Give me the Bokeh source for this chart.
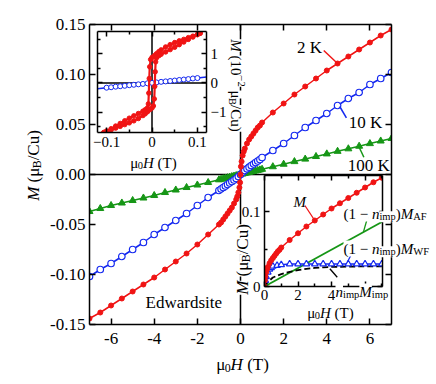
import math
from bokeh.plotting import figure
from bokeh.models import Range1d, LinearAxis, FixedTicker, Span, Label
from bokeh.embed import file_html
from bokeh.resources import INLINE

FONT = "Liberation Serif"
RED, BLUE, GREEN = "#f01414", "#1428f0", "#169616"

# ---------------- main panel data (muB/Cu vs T) ----------------
h_2k = [-7.0, -6.5, -6.0, -5.5, -5.0, -4.5, -4.0, -3.5, -3.0, -2.5, -2.0, -1.5, -1.0,
        -0.9, -0.8, -0.7, -0.6, -0.5, -0.4, -0.3, -0.2, -0.15, -0.1, -0.05, -0.02, 0.0,
        0.02, 0.05, 0.1, 0.15, 0.2, 0.3, 0.4, 0.5, 0.6, 0.7, 0.8, 0.9,
        1.0, 1.5, 2.0, 2.5, 3.0, 3.5, 4.0, 4.5, 5.0, 5.5, 6.0, 6.5, 7.0]
m_2k = [-0.144, -0.138, -0.131, -0.124, -0.117, -0.110, -0.103, -0.095, -0.087, -0.079, -0.070, -0.060, -0.050,
        -0.048, -0.045, -0.042, -0.039, -0.036, -0.033, -0.029, -0.025, -0.022, -0.018, -0.013, -0.008, 0.0,
        0.008, 0.013, 0.019, 0.023, 0.026, 0.031, 0.035, 0.038, 0.041, 0.044, 0.047, 0.049,
        0.052, 0.062, 0.071, 0.080, 0.088, 0.096, 0.104, 0.111, 0.118, 0.125, 0.132, 0.139, 0.145]

h_10k = [-7.0, -6.5, -6.0, -5.5, -5.0, -4.5, -4.0, -3.5, -3.0, -2.5, -2.0, -1.5, -1.0,
         -0.9, -0.8, -0.7, -0.6, -0.5, -0.4, -0.3, -0.2, -0.1, 0.0,
         0.1, 0.2, 0.3, 0.4, 0.5, 0.6, 0.7, 0.8, 0.9,
         1.0, 1.5, 2.0, 2.5, 3.0, 3.5, 4.0, 4.5, 5.0, 5.5, 6.0, 6.5, 7.0]
m_10k = [-0.102, -0.095, -0.089, -0.082, -0.075, -0.068, -0.060, -0.053, -0.046, -0.039, -0.031, -0.023, -0.016,
         -0.0145, -0.013, -0.0115, -0.010, -0.0085, -0.007, -0.0055, -0.004, -0.002, 0.0,
         0.002, 0.004, 0.0057, 0.0073, 0.009, 0.0105, 0.012, 0.0135, 0.015,
         0.017, 0.024, 0.031, 0.039, 0.047, 0.054, 0.061, 0.069, 0.076, 0.082, 0.090, 0.096, 0.102]

h_100k = [-7.0, -6.5, -6.0, -5.5, -5.0, -4.5, -4.0, -3.5, -3.0, -2.5, -2.0, -1.5, -1.0,
          -0.9, -0.8, -0.7, -0.6, -0.5, -0.4, -0.3, -0.2, -0.1, 0.0,
          0.1, 0.2, 0.3, 0.4, 0.5, 0.6, 0.7, 0.8, 0.9,
          1.0, 1.5, 2.0, 2.5, 3.0, 3.5, 4.0, 4.5, 5.0, 5.5, 6.0, 6.5, 7.0]
m_100k = [-0.037, -0.034, -0.031, -0.0285, -0.026, -0.0235, -0.021, -0.018, -0.0155, -0.013, -0.0105, -0.008, -0.0053,
          -0.0048, -0.0042, -0.0037, -0.0032, -0.0027, -0.0021, -0.0016, -0.0011, -0.0005, 0.0,
          0.0005, 0.0011, 0.0016, 0.0021, 0.0026, 0.0031, 0.0036, 0.0041, 0.0046,
          0.0052, 0.0078, 0.0103, 0.0129, 0.0154, 0.018, 0.0206, 0.0232, 0.0257, 0.0283, 0.0309, 0.0335, 0.036]

main_x_ticks = [-6, -4, -2, 0, 2, 4, 6]
main_x_labels = ["-6", "-4", "-2", "0", "2", "4", "6"]
main_y_ticks = [-0.15, -0.1, -0.05, 0, 0.05, 0.1, 0.15]
main_y_labels = ["-0.15", "-0.10", "-0.05", "0.00", "0.05", "0.10", "0.15"]

# ---------------- inset 1: low-field loop (10^-2 muB/Cu vs T) ----------------
loop_down_h = [0.106, 0.1, 0.09, 0.08, 0.07, 0.06, 0.05, 0.04, 0.03, 0.02, 0.015, 0.01, 0.005, 0.0,
               -0.003, -0.005, -0.006, -0.007, -0.008, -0.01, -0.015, -0.02, -0.03, -0.04, -0.05,
               -0.06, -0.07, -0.08, -0.09, -0.1, -0.106]
loop_down_m = [1.70, 1.66, 1.60, 1.55, 1.49, 1.44, 1.38, 1.31, 1.23, 1.13, 1.07, 1.00, 0.93, 0.87,
               0.80, 0.55, 0.15, -0.35, -0.72, -0.86, -0.92, -0.97, -1.05, -1.13, -1.21,
               -1.30, -1.39, -1.48, -1.57, -1.65, -1.70]
loop_up_h = [-0.106, -0.1, -0.09, -0.08, -0.07, -0.06, -0.05, -0.04, -0.03, -0.02, -0.015, -0.01, -0.005, 0.0,
             0.003, 0.005, 0.006, 0.007, 0.008, 0.01, 0.015, 0.02, 0.03, 0.04, 0.05,
             0.06, 0.07, 0.08, 0.09, 0.1, 0.106]
loop_up_m = [-1.70, -1.66, -1.61, -1.55, -1.49, -1.43, -1.37, -1.30, -1.22, -1.12, -1.06, -0.99, -0.92, -0.86,
             -0.79, -0.55, -0.12, 0.38, 0.72, 0.86, 0.93, 0.98, 1.06, 1.14, 1.22,
             1.31, 1.40, 1.49, 1.57, 1.65, 1.70]
lin10_h = [-0.12, -0.1, -0.09, -0.08, -0.07, -0.06, -0.05, -0.04, -0.03, -0.02, -0.01, 0,
           0.01, 0.02, 0.03, 0.04, 0.05, 0.06, 0.07, 0.08, 0.09, 0.1, 0.12]
lin10_m = [-0.20, -0.165, -0.15, -0.13, -0.115, -0.10, -0.08, -0.065, -0.05, -0.035, -0.015, 0,
           0.015, 0.035, 0.05, 0.065, 0.08, 0.10, 0.115, 0.13, 0.15, 0.165, 0.20]
in1_x_ticks = [-0.1, 0, 0.1]
in1_x_labels = ["\u22120.1", "0", "0.1"]
in1_x_minor = [-0.05, 0.05]
in1_y_ticks = [-1, 0, 1]
in1_y_labels = ["\u22121", "0", "1"]
in1_y_minor = [-1.5, -0.5, 0.5, 1.5]

# ---------------- inset 2: decomposition at 2 K ----------------
af_h = [0, 7.0]
af_m = [0, 0.086]
wf_h = [0, 0.05, 0.1, 0.2, 0.3, 0.4, 0.5, 0.75, 1.0, 1.5, 2.0, 2.5, 3.0, 3.5, 4.0, 4.5, 5.0, 5.5, 6.0, 6.5, 7.0]
wf_m = [0, 0.008, 0.013, 0.019, 0.023, 0.025, 0.027, 0.028, 0.029, 0.030, 0.030, 0.030, 0.030, 0.030,
        0.030, 0.030, 0.030, 0.030, 0.030, 0.030, 0.030]
imp_h = [0, 0.2, 0.5, 1.0, 1.5, 2.0, 2.5, 3.0, 3.5, 4.0, 5.0, 6.0, 7.0]
imp_m = [0, 0.006, 0.012, 0.0165, 0.0195, 0.0218, 0.0235, 0.0248, 0.0256, 0.0261, 0.0266, 0.0268, 0.0269]
in2_x_ticks = [0, 2, 4, 6]
in2_x_labels = ["0", "2", "4", ""]
in2_x_minor = [1, 3, 5, 7]
in2_y_ticks = [0, 0.1]
in2_y_labels = ["0", "0.1"]
in2_y_minor = [0.05]

# ---------------- helpers ----------------
WR = {' ': 250, '(': 333, ')': 333, '.': 250, '/': 278, '\u2212': 564, '-': 333,
      'A': 722, 'B': 667, 'C': 667, 'F': 556, 'H': 722, 'K': 722, 'M': 889, 'T': 611, 'W': 944,
      'i': 278, 'm': 778, 'n': 500, 'p': 500, 'u': 500, '\u03bc': 500}
WI = {'H': 722, 'M': 833, 'n': 500}

W_ALL, H_ALL = 432, 380   # whole picture


def mkfig(w, h, xr, yr, ml, mr, mt, mb, transparent):
    f = figure(width=w, height=h, x_range=xr, y_range=yr, output_backend="svg",
               toolbar_location=None, x_axis_location=None, y_axis_location=None, title=None,
               min_border_left=ml, min_border_right=mr, min_border_top=mt, min_border_bottom=mb)
    f.outline_line_color = None
    f.xgrid.visible = False
    f.ygrid.visible = False
    f.background_fill_color = "white"
    f.border_fill_color = None if transparent else "white"
    return f


def add_axis(f, side, ticks, minor, labels=None, size="17px", standoff=4, tin=6, mtin=3):
    ax = LinearAxis(ticker=FixedTicker(ticks=ticks, minor_ticks=minor))
    ax.axis_line_width = 1.5
    ax.axis_line_color = "black"
    ax.major_tick_line_width = 1.5
    ax.minor_tick_line_width = 1.5
    ax.major_tick_in = tin
    ax.major_tick_out = 0
    ax.minor_tick_in = mtin
    ax.minor_tick_out = 0
    if labels is None:
        ax.major_label_overrides = {t: "" for t in ticks}
        ax.major_label_text_font_size = "1px"
        ax.major_label_standoff = 0
    else:
        ax.major_label_overrides = {t: l for t, l in zip(ticks, labels)}
        ax.major_label_text_font = FONT
        ax.major_label_text_font_size = size
        ax.major_label_text_color = "black"
        ax.major_label_standoff = standoff
    f.add_layout(ax, side)
    return ax


# text layer: transparent figure whose data units are page pixels (y downwards)
t = figure(width=W_ALL, height=H_ALL, x_range=Range1d(0, W_ALL), y_range=Range1d(H_ALL, 0),
           output_backend="svg", toolbar_location=None, x_axis_location=None, y_axis_location=None,
           title=None, min_border=0)
t.outline_line_color = None
t.xgrid.visible = False
t.ygrid.visible = False
t.background_fill_color = None
t.border_fill_color = None


def rich(px, py, pieces, size, angle=0.0, align="center", bg=None):
    """Text made of pieces (regular / italic / sub / sup), baseline anchored at page pixel (px, py)."""
    sizes, widths = [], []
    for s_text, st in pieces:
        s = size * 0.7 if st in ("b", "p") else size
        tab = WI if st == "i" else WR
        sizes.append(s)
        widths.append(sum(tab.get(c, 500) for c in s_text) * s / 1000.0)
    total = sum(widths)
    pos = -total / 2.0 if align == "center" else 0.0
    ca, sa = math.cos(angle), math.sin(angle)
    for (s_text, st), s, w in zip(pieces, sizes, widths):
        lead = len(s_text) - len(s_text.lstrip(" "))      # SVG drops leading blanks
        start = pos + lead * WR[' '] * s / 1000.0
        shift = -0.22 * size if st == "b" else (0.40 * size if st == "p" else 0.0)
        x = px + start * ca - shift * sa
        y = py - start * sa - shift * ca
        t.add_layout(Label(x=x, y=y, text=s_text.strip(" "), angle=angle,
                           text_align="left", text_baseline="alphabetic", text_font=FONT,
                           text_font_size=f"{s:.1f}px",
                           text_font_style="italic" if st == "i" else "normal",
                           text_color="black", background_fill_color=bg))
        pos += w


# ---------------- main figure ----------------
p = mkfig(W_ALL, H_ALL, Range1d(-7, 7), Range1d(-0.15, 0.15), 89, 41, 24, 56, False)
add_axis(p, "below", main_x_ticks, [], main_x_labels, "17px", 8)
add_axis(p, "above", main_x_ticks, [])
add_axis(p, "left", main_y_ticks, [], main_y_labels, "17px", 4)
add_axis(p, "right", main_y_ticks, [])
p.add_layout(Span(location=0, dimension="height", line_color="black", line_width=1.5, level="underlay"))
p.add_layout(Span(location=0, dimension="width", line_color="black", line_width=1.5, level="underlay"))

p.line(h_100k, m_100k, line_color=GREEN, line_width=1.5)
p.scatter(h_100k, m_100k, marker="triangle", size=7, fill_color=GREEN, line_color=GREEN)
p.line(h_10k, m_10k, line_color=BLUE, line_width=1.5)
p.scatter(h_10k, m_10k, marker="circle", size=6.5, fill_color="white", line_color=BLUE, line_width=1.2)
p.line(h_2k, m_2k, line_color=RED, line_width=1.5)
p.scatter(h_2k, m_2k, marker="circle", size=5, fill_color=RED, line_color=RED)

p.segment(x0=[3.86, 4.91, 5.72], y0=[0.124, 0.0567, 0.0173],
          x1=[4.5, 4.6, 5.5], y1=[0.111, 0.068, 0.0273],
          line_color=[RED, BLUE, GREEN], line_width=1.5)
for tx, ty, tt in [(3.2, 0.127, "2 K"), (5.8, 0.052, "10 K"), (5.95, 0.0095, "100 K"),
                   (-2.63, -0.1277, "Edwardsite")]:
    p.add_layout(Label(x=tx, y=ty, text=tt, text_align="center", text_baseline="middle",
                       text_font=FONT, text_font_size="17px", text_color="black"))

# ---------------- inset 1 ----------------
a = mkfig(156, 138, Range1d(-0.12, 0.12), Range1d(-1.70, 1.76), 7, 40, 4, 33, True)
add_axis(a, "below", in1_x_ticks, in1_x_minor, in1_x_labels, "15px", 4, 5, 3)
add_axis(a, "above", in1_x_ticks, in1_x_minor, None, tin=5, mtin=3)
add_axis(a, "left", in1_y_ticks, in1_y_minor, None, tin=5, mtin=3)
add_axis(a, "right", in1_y_ticks, in1_y_minor, in1_y_labels, "15px", 4, 5, 3)
a.add_layout(Span(location=0, dimension="height", line_color="black", line_width=1.5, level="underlay"))
a.add_layout(Span(location=0, dimension="width", line_color="black", line_width=1.5, level="underlay"))
a.line(lin10_h, lin10_m, line_color=BLUE, line_width=1.5)
a.scatter(lin10_h[1:-1], lin10_m[1:-1], marker="circle", size=5, fill_color="white", line_color=BLUE, line_width=1)
a.line(loop_down_h, loop_down_m, line_color=RED, line_width=2.2)
a.scatter(loop_down_h, loop_down_m, marker="circle", size=4.5, fill_color=RED, line_color=RED)
a.line(loop_up_h, loop_up_m, line_color=RED, line_width=2.2)
a.scatter(loop_up_h, loop_up_m, marker="circle", size=4.5, fill_color=RED, line_color=RED)

# ---------------- inset 2 ----------------
b = mkfig(200, 148, Range1d(0, 7.04), Range1d(0, 0.148), 36, 46, 5, 32, True)
add_axis(b, "below", in2_x_ticks, in2_x_minor, in2_x_labels, "15px", 3, 5, 3)
add_axis(b, "above", in2_x_ticks, in2_x_minor, None, tin=5, mtin=3)
add_axis(b, "left", in2_y_ticks, in2_y_minor, in2_y_labels, "15px", 4, 5, 3)
add_axis(b, "right", in2_y_ticks, in2_y_minor, None, tin=5, mtin=3)
dec_h = [h for h in h_2k if h >= 0]
dec_m = [m for h, m in zip(h_2k, m_2k) if h >= 0]
b.line(af_h, af_m, line_color=GREEN, line_width=1.8)
b.line(imp_h, imp_m, line_color="black", line_width=1.8, line_dash="6 3")
b.line(wf_h, wf_m, line_color=BLUE, line_width=1.5)
b.scatter(wf_h[1:], wf_m[1:], marker="triangle", size=6.5, fill_color="white", line_color=BLUE, line_width=1.2)
b.line(dec_h, dec_m, line_color=RED, line_width=1.5)
b.scatter(dec_h, dec_m, marker="circle", size=5, fill_color=RED, line_color=RED)
b.segment(x0=[2.41, 6.15, 5.3, 3.9], y0=[0.108, 0.092, 0.048, 0.0236],
          x1=[2.94, 5.9, 4.94, 4.34], y1=[0.090, 0.0725, 0.0324, 0.0124],
          line_color=[RED, GREEN, BLUE, "black"], line_width=1.3)
b.add_layout(Label(x=2.11, y=0.1124, text="M", text_align="center", text_baseline="middle",
                   text_font=FONT, text_font_size="15px", text_font_style="italic", text_color="black"))

# ---------------- texts outside the frames (page pixel positions) ----------------
MU0H = [("\u03bc", "r"), ("0", "b"), ("H", "i"), (" (T)", "r")]
MUB = [("M", "i"), (" (\u03bc", "r"), ("B", "b"), ("/Cu)", "r")]
rich(242, 363.5, MU0H, 17)
rich(33, 165, MUB, 17, angle=math.pi / 2)
rich(153, 162, MU0H, 15)
rich(235, 85, [("M", "i"), (" (10", "r"), ("\u22122", "p"), (" \u03bc", "r"), ("B", "b"), ("/Cu)", "r")], 15,
     angle=-math.pi / 2, bg="white")
rich(343, 213, [("(1 \u2212 ", "r"), ("n", "i"), ("imp", "b"), (")", "r"), ("M", "i"), ("AF", "b")],
     15, align="left", bg="white")
rich(343, 248, [("(1 \u2212 ", "r"), ("n", "i"), ("imp", "b"), (")", "r"), ("M", "i"), ("WF", "b")],
     15, align="left", bg="white")
rich(335, 291, [("n", "i"), ("imp", "b"), ("M", "i"), ("imp", "b")], 15, align="left", bg="white")
rich(330, 312, MU0H, 15)
rich(242, 259, MUB, 17, angle=math.pi / 2, bg="white")

# ---------------- overlay placement: separate roots, absolutely positioned ----------------
a.styles = {"position": "absolute", "left": "90px", "top": "27px"}
b.styles = {"position": "absolute", "left": "228px", "top": "170px"}
t.styles = {"position": "absolute", "left": "0px", "top": "0px"}

open("out.html", "w").write(file_html([p, a, b, t], INLINE))
